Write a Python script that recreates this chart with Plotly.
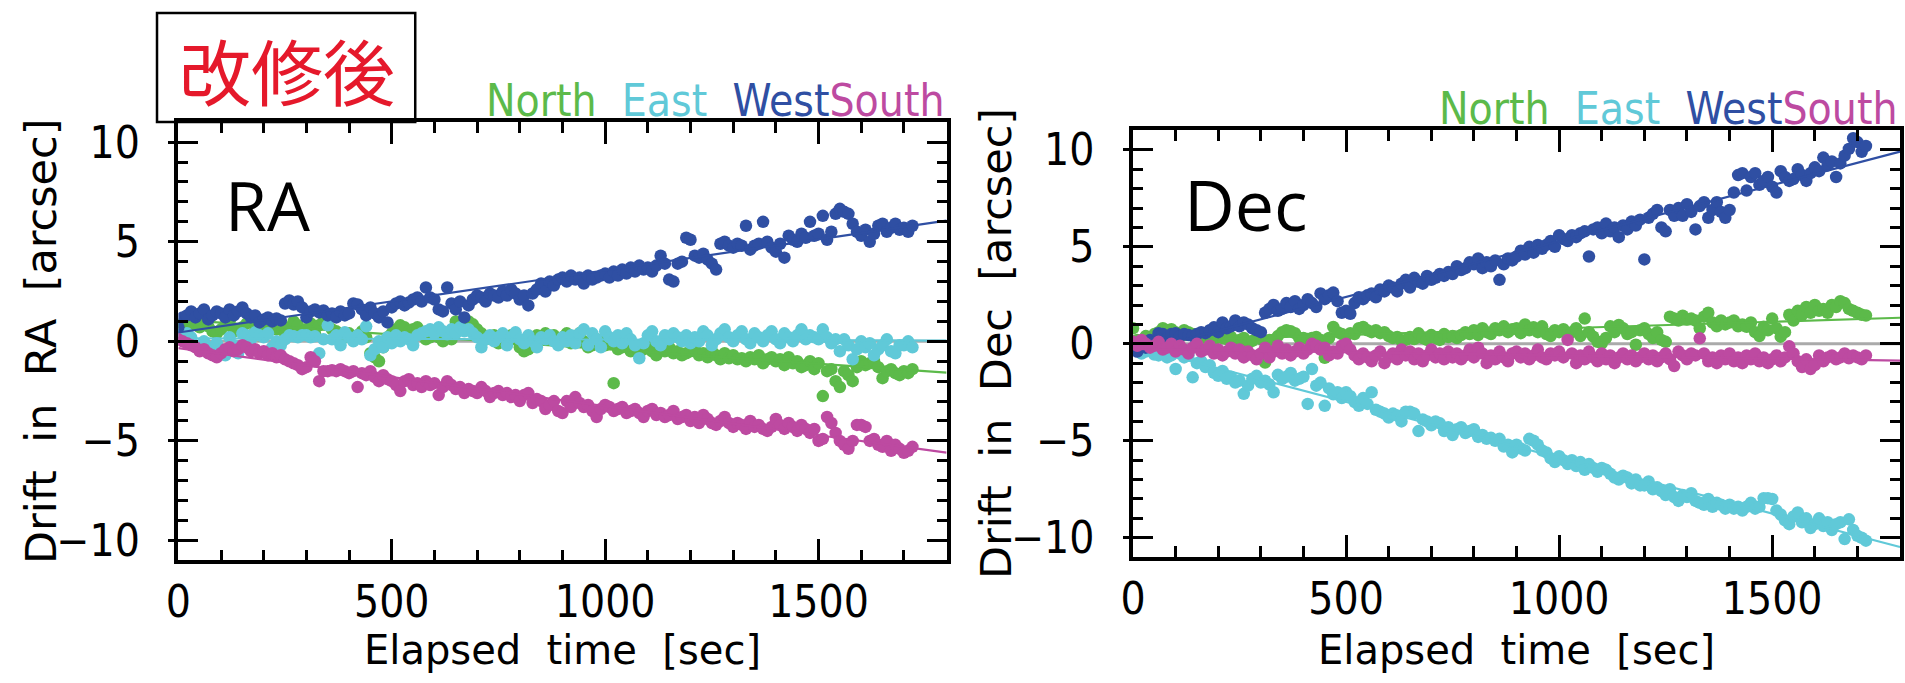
import numpy as np
import plotly.graph_objects as go

# ---------------- data ----------------
elapsed_sec = [
    0, 10, 20, 30, 40, 50, 60, 70, 80, 90,
    100, 110, 120, 130, 140, 150, 160, 170, 180, 190,
    200, 210, 220, 230, 240, 250, 260, 270, 280, 290,
    300, 310, 320, 330, 340, 350, 360, 370, 380, 390,
    400, 410, 420, 430, 440, 450, 460, 470, 480, 490,
    500, 510, 520, 530, 540, 550, 560, 570, 580, 590,
    600, 610, 620, 630, 640, 650, 660, 670, 680, 690,
    700, 710, 720, 730, 740, 750, 760, 770, 780, 790,
    800, 810, 820, 830, 840, 850, 860, 870, 880, 890,
    900, 910, 920, 930, 940, 950, 960, 970, 980, 990,
    1000, 1010, 1020, 1030, 1040, 1050, 1060, 1070, 1080, 1090,
    1100, 1110, 1120, 1130, 1140, 1150, 1160, 1170, 1180, 1190,
    1200, 1210, 1220, 1230, 1240, 1250, 1260, 1270, 1280, 1290,
    1300, 1310, 1320, 1330, 1340, 1350, 1360, 1370, 1380, 1390,
    1400, 1410, 1420, 1430, 1440, 1450, 1460, 1470, 1480, 1490,
    1500, 1510, 1520, 1530, 1540, 1550, 1560, 1570, 1580, 1590,
    1600, 1610, 1620, 1630, 1640, 1650, 1660, 1670, 1680, 1690,
    1700, 1710, 1720,
]

ra_north = [
    0.6, 0.9, 1.0, 0.8, 1.1, 0.7, 0.9, 0.75, 0.5, 0.4,
    0.6, 0.8, 1.0, 0.5, 0.6, 0.7, 0.9, 1.1, 0.5, 0.3,
    0.7, 1.0, 0.8, 0.6, 0.9, 0.4, 0.7, 1.0, 0.8, 0.5,
    0.6, 0.9, 0.4, 0.8, 1.0, 0.8, 0.6, 0.5, 0.3, 0.2,
    0.4, 0.1, 0.3, 0.5, 0.2, -0.6, -0.8, -1.0, -0.3, 0.2,
    0.4, 0.6, 0.8, 0.7, 0.5, 0.6, 0.7, 0.3, 0.1, 0.2,
    0.35, 0.2, 0.0, 0.3, 0.1, 1.0, 0.9, 0.7, 1.0, 0.85,
    0.6, 0.4, 0.1, 0.2, 0.3, -0.1, 0.2, 0.0, 0.3, 0.1,
    -0.3, -0.5, -0.4, -0.1, 0.3, 0.1, 0.4, 0.2, 0.3, 0.0,
    0.2, 0.4, -0.1, 0.1, 0.4, 0.0, -0.3, -0.2, 0.1, 0.0,
    -0.2, -0.1, -2.1, -0.4, -0.3, -0.2, -0.5, -0.3, -0.6, -0.4,
    -0.3, -0.5, -0.7, -0.4, -0.5, -0.3, -0.6, -0.5, -0.7, -0.6,
    -0.5, -0.4, -0.7, -0.6, -0.8, -0.5, -0.7, -0.9, -0.6, -0.85,
    -0.7, -0.9, -0.85, -1.0, -0.8, -0.9, -0.7, -1.1, -0.9, -0.8,
    -1.0, -0.9, -1.2, -0.8, -1.1, -1.0, -1.3, -1.2, -1.0, -1.4,
    -1.1, -2.75, -1.5, -1.4, -2.0, -2.3, -1.5, -1.7, -2.0, -1.3,
    -1.0, -1.2, -1.1, -1.0, -1.3, -1.85, -1.5, -1.4, -1.6, -1.7,
    -1.5, -1.6, -1.4,
]
ra_east = [
    0.3, 0.1, 0.4, 0.2, -0.2, -0.4, 0.0, -0.5, -0.3, -0.1,
    -0.4, -0.7, 0.2, -0.2, -0.6, 0.4, 0.3, 0.1, 0.45, 0.3,
    0.2, 0.4, -0.3, 0.0, -0.2, 0.1, 0.3, 0.25, 0.2, 0.3,
    0.3, 0.2, 0.25, -0.6, 0.1, 0.8, 0.1, 0.3, -0.2, 0.45,
    0.2, 0.0, 0.3, 0.1, 0.75, -0.7, -0.4, 0.0, -0.3, 0.2,
    -0.1, 0.3, 0.0, 0.2, 0.1, -0.2, 0.3, 0.4, 0.5, 0.6,
    0.4, 0.7, 0.5, 0.35, 0.6, 0.4, 0.7, 0.5, 0.6, 0.4,
    0.2, -0.3, 0.1, 0.3, 0.0, 0.2, 0.4, -0.2, 0.2, 0.45,
    0.1, -0.1, 0.3, 0.0, -0.3, 0.2, 0.1, 0.3, 0.0, -0.2,
    0.2, 0.0, 0.3, -0.1, 0.4, 0.6, -0.2, 0.4, 0.1, -0.3,
    0.5, 0.2, 0.0, 0.3, -0.1, 0.4, 0.1, -0.2, -0.85, -0.1,
    0.3, 0.5, 0.0, -0.2, 0.3, 0.1, 0.4, 0.2, 0.0, 0.3,
    -0.1, 0.2, 0.0, 0.5, 0.3, -0.2, 0.1, 0.4, 0.6, 0.2,
    0.0, 0.3, 0.5, 0.1, -0.1, 0.4, 0.2, 0.0, 0.3, 0.5,
    0.1, -0.1, 0.4, 0.2, 0.0, 0.3, 0.6, 0.1, 0.3, 0.2,
    0.1, 0.6, 0.2, -0.1, 0.1, -0.5, 0.1, -0.2, -0.9, -0.4,
    0.0, -0.3, -0.1, -0.7, -0.4, -0.2, 0.1, -0.5, -0.6, -0.2,
    -0.2, 0.0, -0.3,
]
ra_west = [
    0.7, 1.2, 1.3, 1.5, 1.2, 1.4, 1.6, 1.1, 1.3, 1.5,
    1.4, 1.2, 1.6, 1.3, 1.5, 1.7, 1.4, 1.2, 1.3, 0.95,
    1.1, 1.2, 1.0, 1.15, 1.05, 1.9, 2.05, 1.85, 2.0, 1.7,
    1.2, 1.5, 1.6, 1.45, 1.55, 1.3, 1.4, 1.2, 1.5, 1.3,
    1.4, 1.9, 1.85, 1.6, 1.3, 1.7, 1.4, 1.2, 1.5, 0.95,
    1.7, 1.9, 2.0, 1.8, 1.95, 2.1, 2.2, 2.0, 2.7, 2.2,
    2.1, 1.6, 1.5, 2.7, 1.9, 1.6, 2.0, 1.2, 1.8, 2.1,
    2.3, 2.2, 2.0, 2.4, 2.3, 2.2, 2.5, 2.3, 2.6, 2.4,
    2.1, 2.3, 1.8, 2.4, 2.6, 2.9, 2.5, 3.0, 2.8, 3.1,
    3.2, 3.0, 3.3, 3.1, 3.2, 2.9, 3.3, 3.1, 3.2, 3.3,
    3.4, 3.2, 3.5, 3.3, 3.6, 3.4, 3.7, 3.5, 3.8, 3.6,
    3.7, 3.5, 3.8, 4.3, 3.9, 3.1, 3.0, 3.9, 4.0, 5.2,
    5.1, 4.3, 4.2, 4.4, 4.1, 3.9, 3.6, 4.9, 5.0, 4.8,
    4.7, 4.9, 4.8, 5.8, 4.6, 4.8, 4.9, 6.0, 5.0, 4.7,
    4.5, 4.9, 4.2, 5.3, 5.1, 5.0, 5.4, 5.2, 6.0, 5.3,
    5.4, 6.3, 5.1, 5.5, 6.4, 6.65, 6.5, 6.4, 5.9, 5.5,
    5.3, 5.6, 5.0, 5.4, 5.8, 5.9, 5.5, 5.7, 5.9, 5.6,
    5.7, 5.5, 5.8,
]
ra_south = [
    0.1, 0.0, -0.1, -0.2, -0.3, -0.5, -0.4, -0.6, -0.7, -0.8,
    -0.6, -0.4, -0.3, -0.5, -0.4, -0.2, -0.3, -0.5, -0.4, -0.6,
    -0.5, -0.7, -0.6, -0.8, -0.7, -0.9, -1.0, -1.1, -1.2, -1.4,
    -1.3, -0.8, -1.0, -2.0, -1.5, -1.5, -1.45, -1.5, -1.4, -1.5,
    -1.6, -1.5, -2.3, -1.6, -1.7, -1.5, -1.8, -2.0, -1.7, -1.9,
    -2.0, -2.2, -2.5, -2.0, -1.9, -2.2, -2.1, -2.3, -2.0, -2.2,
    -2.1, -2.7, -2.3, -2.0, -2.2, -2.4, -2.3, -2.6, -2.4, -2.5,
    -2.6, -2.3, -2.5, -2.8, -2.6, -2.5, -2.7, -2.6, -2.8, -2.7,
    -3.0, -2.7, -2.6, -3.1, -2.9, -3.0, -3.4, -3.2, -3.0, -3.5,
    -3.6, -3.0, -3.3, -2.8, -3.1, -3.3, -3.2, -3.5, -3.8, -3.4,
    -3.2, -3.3, -3.5, -3.4, -3.3, -3.6, -3.5, -3.4, -3.6, -3.8,
    -3.5, -3.4, -3.7, -3.6, -3.8, -3.7, -3.5, -3.9, -3.8, -3.7,
    -4.0, -3.8, -4.1, -3.7, -3.9, -4.1, -4.2, -4.0, -3.8, -4.1,
    -4.3, -4.1, -4.2, -4.4, -4.0, -4.3, -4.2, -4.4, -4.5, -4.3,
    -3.9, -4.2, -4.4, -4.1, -4.3, -4.5, -4.2, -4.4, -4.6, -4.4,
    -5.0, -4.9, -3.8, -4.1, -4.6, -5.0, -5.2, -5.4, -5.0, -4.2,
    -4.2, -4.3, -5.0, -4.9, -5.2, -5.3, -5.0, -5.5, -5.2, -5.4,
    -5.6, -5.5, -5.3,
]

dec_north = [
    0.8, 0.2, 0.1, 0.4, 0.2, 0.5, 0.6, 0.8, 0.7, 0.75,
    0.6, 0.55, 0.7, 0.6, 0.5, 0.45, 0.3, 0.4, 0.35, 0.2,
    0.45, 0.3, 0.25, 0.35, 0.1, 0.2, 0.3, 0.05, 0.15, 0.3,
    0.25, -0.97, 0.2, 0.2, 0.4, 0.6, 0.7, 0.65, 0.55, 0.3,
    0.3, 0.25, 0.3, 0.35, 0.2, -0.72, 0.3, 0.87, 0.6, 0.5,
    0.4, 0.55, 0.5, 0.8, 0.87, 0.7, 0.6, 0.7, 0.55, 0.6,
    0.4, 0.3, 0.35, 0.15, 0.2, 0.35, 0.25, 0.54, 0.3, 0.2,
    0.45, 0.3, 0.2, 0.5, 0.35, 0.4, 0.3, 0.45, 0.6, 0.5,
    0.7, 0.45, 0.8, 0.6, 0.5, 0.8, 0.7, 0.9, 0.6, 0.75,
    0.8, 0.55, 1.0, 0.7, 0.85, 0.6, 0.9, 0.5, 0.4, 0.7,
    0.6, 0.75, 0.5, 0.6, 0.8, 0.4, 1.3, 0.6, 0.37, 0.1,
    0.03, 0.3, 0.9, 0.6, 0.97, 0.8, 0.5, 0.6, -0.05, 0.7,
    0.8, 0.5, 0.3, 0.6, 0.2, 0.1, 1.4, 1.3, 1.2, 1.45,
    1.25, 1.3, 1.2, 0.8, 1.4, 1.6, 1.1, 0.9, 1.2, 1.0,
    1.1, 1.2, 0.9, 1.0, 0.88, 1.1, 0.6, 0.4, 0.88, 0.7,
    1.3, 0.8, 0.37, 0.6, 1.5, 1.2, 1.7, 1.5, 1.9, 1.6,
    2.0, 1.7, 1.8, 1.6, 2.0, 1.9, 2.2, 2.1, 1.8, 1.7,
    1.6, 1.5, 1.46,
]
dec_east = [
    -0.15, -0.3, -0.5, -0.4, -0.3, -0.55, -0.6, -0.5, -0.7, -0.6,
    -1.3, -0.5, -0.7, -0.6, -1.73, -1.0, -0.9, -1.2, -1.1, -1.5,
    -1.65, -1.4, -1.8, -1.7, -2.0, -1.9, -2.58, -2.16, -1.8, -1.65,
    -2.0, -1.9, -2.1, -2.5, -1.6, -1.8, -1.7, -1.5, -1.9, -1.8,
    -1.7, -3.1, -1.3, -2.16, -2.0, -3.2, -2.3, -2.6, -2.5, -2.8,
    -2.5, -2.7, -3.0, -3.2, -2.8, -3.1, -2.5, -3.4, -3.5, -3.6,
    -3.8, -3.6, -3.7, -4.0, -3.5, -3.5, -3.6, -4.5, -3.9, -4.0,
    -4.2, -4.0, -4.1, -4.5, -4.3, -4.7, -4.4, -4.3, -4.6, -4.5,
    -4.4, -4.8, -4.7, -4.9, -4.85, -5.0, -4.9, -5.3, -5.2, -5.6,
    -5.2, -5.4, -5.5, -4.9, -5.0, -5.2, -5.5, -5.6, -5.9, -6.1,
    -5.8, -6.0, -6.2, -6.0, -6.3, -6.1, -6.5, -6.2, -6.4, -6.6,
    -6.4, -6.5, -6.7, -6.9, -7.0, -6.8, -6.9, -7.2, -7.0, -7.3,
    -7.3, -7.1, -7.5, -7.4, -7.6, -7.8, -7.5, -7.9, -8.1, -7.8,
    -7.9, -7.7, -8.1, -8.2, -8.3, -8.0, -8.4, -8.2, -8.3, -8.5,
    -8.3, -8.5, -8.4, -8.6, -8.4, -8.2, -8.5, -8.4, -7.96, -7.96,
    -8.0, -8.6, -8.8, -9.1, -9.3, -8.9, -8.7, -9.2, -9.0, -9.5,
    -9.3, -9.0, -9.4, -9.2, -9.6, -9.3, -9.2, -10.07, -9.05, -9.6,
    -9.9, -10.0, -10.15,
]
dec_west = [
    0.0, -0.4, 0.1, -0.2, 0.2, 0.1, 0.55, 0.5, 0.3, 0.5,
    0.55, 0.4, 0.5, 0.45, 0.4, 0.5, 0.6, 0.55, 0.7, 0.85,
    0.6, 1.1, 0.8, 0.9, 1.2, 0.9, 1.1, 1.0, 0.8, 0.7,
    0.6, 1.6, 1.8, 2.0, 1.7, 1.8, 2.1, 1.9, 2.2, 1.8,
    2.0, 2.3, 2.1, 1.9, 2.6, 2.3, 2.5, 2.64, 2.2, 1.6,
    1.7, 1.55, 2.1, 2.4, 2.3, 2.5, 2.6, 2.4, 2.8, 2.7,
    3.0, 2.9, 2.7, 3.1, 3.3, 2.9, 3.4, 3.2, 3.1, 3.5,
    3.3, 3.4, 3.6, 3.5, 3.7, 3.6, 4.0, 3.8, 3.9, 4.2,
    4.1, 4.4, 3.9, 4.2, 4.0, 4.3, 3.3, 4.1, 4.4, 4.3,
    4.5, 4.8, 4.6, 5.0, 4.7, 5.1, 4.9, 5.1, 5.3, 5.0,
    5.6, 5.4, 5.3, 5.6, 5.5, 5.7, 5.8, 4.5, 5.9, 6.0,
    5.7, 6.2, 5.8, 6.0, 5.5, 6.1, 5.9, 6.3, 6.1, 6.4,
    4.35, 6.5, 6.7, 6.9, 6.0, 5.8, 6.9, 6.6, 7.0, 6.6,
    7.2, 6.8, 5.9, 7.1, 7.3, 6.5, 6.9, 7.3, 6.8, 6.5,
    6.9, 7.8, 8.7, 8.8, 7.9, 8.6, 8.8, 8.2, 8.4, 8.6,
    8.1, 7.8, 8.9, 8.6, 8.4, 8.5, 9.0, 8.7, 8.4, 8.8,
    9.1, 8.9, 9.6, 9.2, 9.4, 8.6, 9.3, 9.7, 10.05, 10.6,
    10.4, 9.9, 10.2,
]
dec_south = [
    0.1, -0.1, 0.2, 0.0, -0.2, -0.1, 0.1, -0.3, -0.2, 0.0,
    -0.4, -0.1, -0.3, -0.5, -0.2, 0.0, -0.4, -0.3, -0.1, -0.5,
    -0.3, -0.6, -0.4, -0.2, -0.5, -0.3, -0.7, -0.4, -0.6, -0.8,
    -0.5, -0.2, -0.7, -0.4, -0.1, -0.5, -0.3, -0.6, -0.4, -0.2,
    -0.5, -0.3, 0.0, -0.1, -0.3, -0.2, -0.6, -0.4, -0.5, -0.1,
    0.0, -0.3, -0.6, -0.8, -0.5, -0.7, -0.9, -0.6, -0.4, -1.0,
    -0.7, -0.5, -0.8, -0.3, -0.6, -0.4, -0.8, -0.5, -0.9, -0.6,
    -0.3, -0.7, -0.5, -0.8, -0.4, -0.7, -0.5, -0.8, -0.6, -0.3,
    -0.7, -0.2, -0.5, -1.0, -0.6, -0.8, -0.4, -0.7, -0.9, -0.5,
    -0.4, -0.7, -0.5, -0.8, -0.6, -0.3, -0.7, -0.8, -0.5, -0.6,
    -0.4, -0.7, 0.2, -0.5, -1.0, -0.6, -0.8, -0.4, -0.7, -0.9,
    -0.5, -0.8, -0.6, -1.0, -0.7, -0.5, -0.8, -0.6, -0.9, -0.7,
    -0.5, -0.8, -0.6, -0.9, -0.7, -0.5, -0.8, -1.15, -0.4, -0.6,
    -0.8, -0.5, -0.6, 0.28, -0.5, -0.9, -0.7, -1.0, -0.6, -0.8,
    -0.5, -0.9, -0.7, -1.0, -0.6, -0.8, -0.5, -0.9, -0.7, -1.0,
    -0.8, -0.6, -0.9, -0.7, -0.13, -0.5, -0.9, -1.2, -0.8, -1.3,
    -1.1, -0.6, -0.9, -0.7, -0.6, -0.8, -0.7, -0.5, -0.75, -0.6,
    -0.7, -0.8, -0.6,
]

series_names = ["North", "East", "West", "South"]
ra_values = [ra_north, ra_east, ra_west, ra_south]
dec_values = [dec_north, dec_east, dec_west, dec_south]
x_ticks = [0, 500, 1000, 1500]
y_ticks = [-10, -5, 0, 5, 10]
x_range = [0, 1800]
y_range = [-11, 11]

# ---------------- style ----------------
COLORS = {"North": "#5cba4a", "East": "#60c9d8", "West": "#2f4fa3", "South": "#bd4aa1"}
TICK_FONT = "DejaVu Sans Condensed, DejaVu Sans, sans-serif"
TITLE_FONT = "DejaVu Sans, sans-serif"
W, H = 1905, 683

fig = go.Figure()

panels = [("x", "y", ra_values), ("x2", "y2", dec_values)]
for xa, ya, values in panels:
    # grey zero reference line (under the points)
    fig.add_trace(go.Scatter(x=x_range, y=[0, 0], mode="lines",
                             line=dict(color="#aaaaaa", width=3),
                             xaxis=xa, yaxis=ya, showlegend=False, hoverinfo="skip"))
    for name, vals in zip(series_names, values):
        c = COLORS[name]
        fig.add_trace(go.Scatter(x=elapsed_sec, y=vals, mode="markers",
                                 marker=dict(color=c, size=12.5, line=dict(width=0)),
                                 xaxis=xa, yaxis=ya, showlegend=False, name=name))
        n = min(len(elapsed_sec), len(vals))
        slope, icpt = np.polyfit(np.array(elapsed_sec[:n], float),
                                 np.array(vals[:n], float), 1)
        xf = np.array(x_range, float)
        fig.add_trace(go.Scatter(x=xf, y=icpt + slope * xf, mode="lines",
                                 line=dict(color=c, width=2.2),
                                 xaxis=xa, yaxis=ya, showlegend=False, hoverinfo="skip"))


def px_x(p):
    return p / W


def px_y(p):
    return (H - p) / H


def xaxis_cfg(dom, anchor):
    return dict(domain=dom, anchor=anchor, range=x_range, tickvals=x_ticks,
                showline=True, linewidth=3.5, linecolor="black", mirror="ticks",
                ticks="inside", ticklen=22, tickwidth=3, tickcolor="black",
                minor=dict(ticks="inside", ticklen=11, tickwidth=2.5, tickcolor="black",
                           tick0=0, dtick=100),
                showgrid=False, zeroline=False,
                tickfont=dict(family=TICK_FONT, size=44, color="black"),
                ticklabelstandoff=0)


def yaxis_cfg(dom, anchor):
    return dict(domain=dom, anchor=anchor, range=y_range, tickvals=y_ticks,
                showline=True, linewidth=3.5, linecolor="black", mirror="ticks",
                ticks="inside", ticklen=20, tickwidth=3, tickcolor="black",
                minor=dict(ticks="inside", ticklen=10, tickwidth=2.5, tickcolor="black",
                           tick0=0, dtick=1),
                showgrid=False, zeroline=False,
                tickfont=dict(family=TICK_FONT, size=44, color="black"),
                ticklabelstandoff=26)


def yover_cfg(over, anchor):
    return dict(overlaying=over, anchor=anchor, side="left", range=y_range,
                tickvals=y_ticks, ticks="outside", ticklen=9, tickwidth=3,
                tickcolor="black", showticklabels=False, showline=False,
                showgrid=False, zeroline=False)


left_x = [px_x(166.5), px_x(940)]
left_y = [px_y(564.3), px_y(118.3)]
right_x = [px_x(1127.7), px_x(1900)]
right_y = [px_y(561), px_y(126.7)]

fig.update_layout(
    width=W, height=H, autosize=False,
    margin=dict(l=0, r=0, t=0, b=0),
    paper_bgcolor="white", plot_bgcolor="white",
    showlegend=False,
    xaxis=xaxis_cfg(left_x, "y"),
    yaxis=yaxis_cfg(left_y, "x"),
    xaxis2=xaxis_cfg(right_x, "y2"),
    yaxis2=yaxis_cfg(right_y, "x2"),
    yaxis3=yover_cfg("y", "x"),
    yaxis4=yover_cfg("y2", "x2"),
)

# invisible traces so the overlay axes are drawn
fig.add_trace(go.Scatter(x=[None], y=[None], xaxis="x", yaxis="y3", showlegend=False))
fig.add_trace(go.Scatter(x=[None], y=[None], xaxis="x2", yaxis="y4", showlegend=False))

legend_html = ("<span style='color:{n}'>North</span>\u00a0\u00a0"
               "<span style='color:{e}'>East</span>\u00a0\u00a0"
               "<span style='color:{w}'>West</span>"
               "<span style='color:{s}'>South</span>").format(
    n=COLORS["North"], e=COLORS["East"], w=COLORS["West"], s=COLORS["South"])

annotations = []
for (xd, yd, ylab, panel_label, lab_x, lab_size, title_cx) in [
    (left_x, left_y, "Drift\u00a0\u00a0in\u00a0\u00a0RA\u00a0\u00a0[arcsec]", "RA", 211, 68, 29),
    (right_x, right_y, "Drift\u00a0\u00a0in\u00a0\u00a0Dec\u00a0\u00a0[arcsec]", "Dec", 1177, 70, 990),
]:
    annotations.append(dict(xref="paper", yref="paper", x=xd[1], y=yd[1] - 6 / H,
                            xanchor="right", yanchor="bottom", showarrow=False,
                            text=legend_html,
                            font=dict(family=TICK_FONT, size=44)))
    annotations.append(dict(xref="paper", yref="paper", x=(xd[0] + xd[1]) / 2, y=px_y(656),
                            xanchor="center", yanchor="middle", showarrow=False,
                            text="Elapsed\u00a0\u00a0time\u00a0\u00a0[sec]",
                            font=dict(family=TITLE_FONT, size=40, color="black")))
    annotations.append(dict(xref="paper", yref="paper", x=px_x(title_cx), y=(yd[0] + yd[1]) / 2,
                            xanchor="center", yanchor="middle", showarrow=False,
                            textangle=-90, text=ylab,
                            font=dict(family=TITLE_FONT, size=43, color="black")))
    annotations.append(dict(xref="paper", yref="paper", x=px_x(lab_x), y=px_y(202),
                            xanchor="left", yanchor="middle", showarrow=False,
                            text=panel_label,
                            font=dict(family="Open Sans, Noto Sans, sans-serif",
                                      size=lab_size, color="black")))

annotations.append(dict(xref="paper", yref="paper", x=px_x(275.5), y=px_y(64),
                        xanchor="center", yanchor="middle", showarrow=False,
                        text="改修後",
                        font=dict(family="Noto Sans CJK JP, Noto Sans CJK SC, sans-serif",
                                  size=72, color="#e5192b")))

fig.update_layout(
    annotations=annotations,
    shapes=[dict(type="rect", xref="paper", yref="paper",
                 x0=px_x(145), x1=px_x(405), y0=px_y(118), y1=px_y(7),
                 line=dict(color="black", width=2.5), fillcolor="white", layer="below")],
)

fig.write_html("out.html")
